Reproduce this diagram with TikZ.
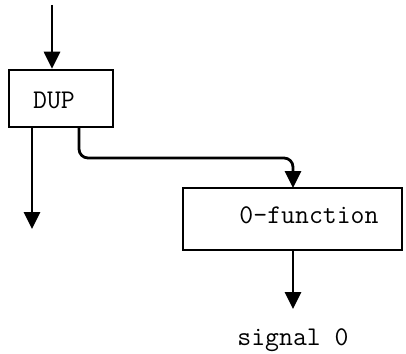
\documentclass[tikz,border=0pt]{standalone}
\usetikzlibrary{arrows.meta}
\tikzset{
  blk/.style={draw, line width=2.6pt, inner sep=0pt},
  wire/.style={line width=2.8pt},
  flow/.style={wire, -{Triangle[width=16pt,length=17pt]}},
  lbl/.style={font=\ttfamily\fontsize{27}{30}\selectfont, inner sep=0pt}
}
\begin{document}
\begin{tikzpicture}[x=1pt,y=-1pt]
  \useasboundingbox (0,0) rectangle (406,353);
  \node[blk, minimum width=104pt, minimum height=57pt] (dup) at (61,98.5) {};
  \node[lbl] at (54,100) {DUP};
  \node[blk, minimum width=219pt, minimum height=62pt] (zf) at (292.5,219) {};
  \node[lbl] at (309,215) {0-function};
  \node[lbl, anchor=base] (sig) at (293,345) {signal 0};

  \coordinate (in) at (52,5);
  \coordinate (lout) at (32,229);
  \coordinate (zout) at (293,309);

  \draw[flow] (in) -- (in |- dup.north);
  \draw[flow] (lout |- dup.south) -- (lout);
  \draw[flow, rounded corners=9pt] (79,127) |- (293,158) -- (293,188);
  \draw[flow] (293,250) -- (zout);
\end{tikzpicture}
\end{document}
